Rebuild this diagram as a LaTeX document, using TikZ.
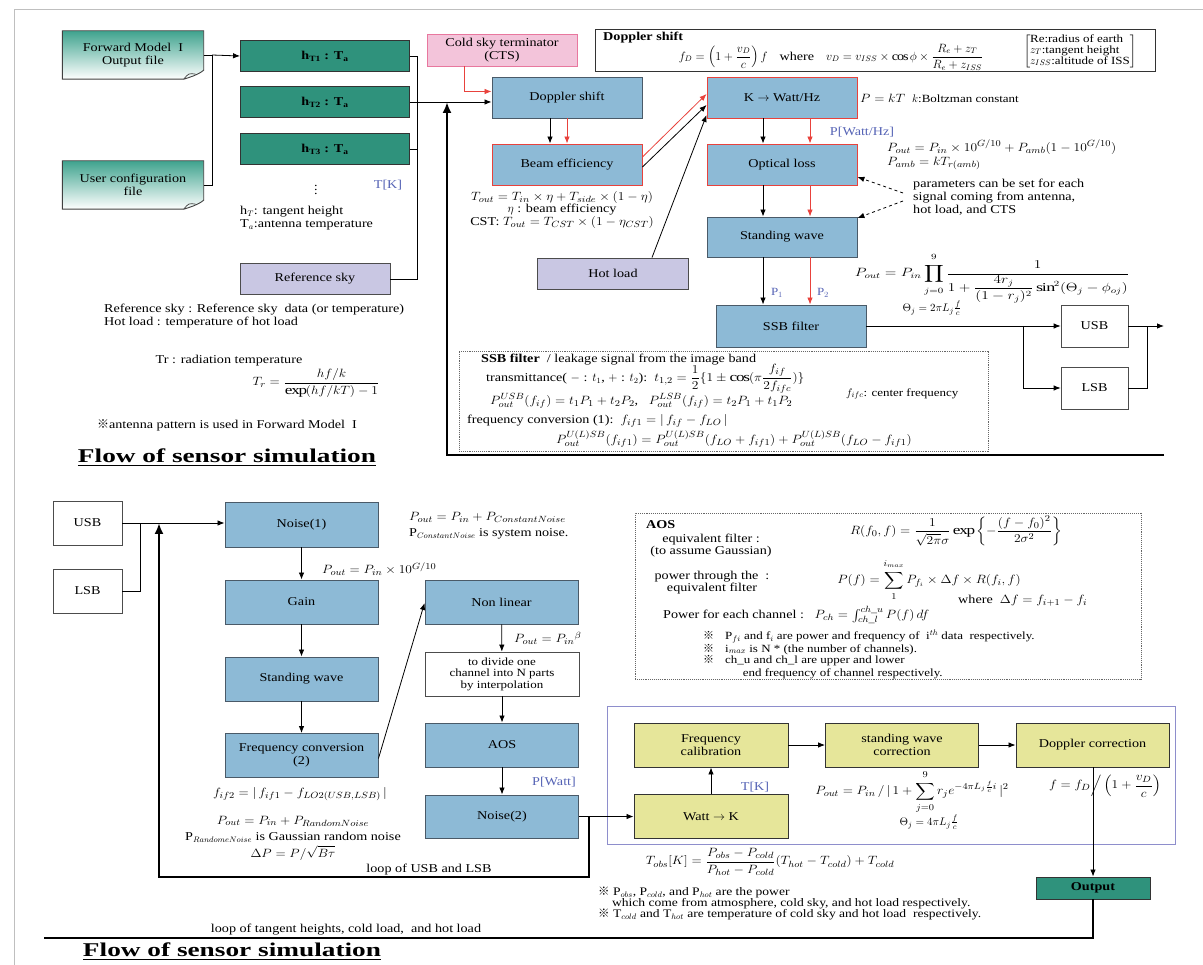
\documentclass[tikz,border=0pt]{standalone}
\usepackage{fontspec}
\usepackage{amsmath}
\usepackage{graphicx}
\setmainfont{Liberation Serif}[FakeStretch=1.18]
\newfontfamily\titlefont{Liberation Serif}[FakeStretch=1.4]
\newfontfamily\markfont{Noto Sans CJK JP}
\usetikzlibrary{arrows.meta,backgrounds}

\definecolor{boxblue}{HTML}{8DBAD6}
\definecolor{boxedge}{HTML}{4A5A68}
\definecolor{edgered}{HTML}{E8423C}
\definecolor{tealbox}{HTML}{2F927C}
\definecolor{docteal}{HTML}{3FA38E}
\definecolor{lavender}{HTML}{C9C7E3}
\definecolor{ctspink}{HTML}{F3C4DA}
\definecolor{ctsedge}{HTML}{E8779E}
\definecolor{calyellow}{HTML}{E6E69A}
\definecolor{labelblue}{HTML}{5563B5}
\definecolor{framepurple}{HTML}{8E8ECC}

\newcommand{\fs}{\fontsize{12}{13}\selectfont}
\newcommand{\fsmall}{\fontsize{11}{11}\selectfont}
\newcommand{\refmark}{{\markfont ※}}
% wider, larger maths as in the slide
\newcommand{\mm}[1]{{\fontsize{13}{14}\selectfont\scalebox{1.12}[1]{$#1$}}}
\newcommand{\uplim}[1]{\raisebox{2.5pt}{$\scriptstyle #1$}}
\newcommand{\dnlim}[1]{\raisebox{-2.5pt}{$\scriptstyle #1$}}

\begin{document}
\begin{tikzpicture}[x=1pt, y=-1pt,
  every node/.style={font=\fs},
  procbox/.style={draw=boxedge, fill=boxblue, line width=0.9pt,
                  minimum width=150pt, minimum height=41pt, align=center, inner sep=2pt},
  redbox/.style={procbox, draw=edgered},
  heightbox/.style={draw=black!80, fill=tealbox, line width=0.9pt,
                    minimum width=169pt, minimum height=31pt, font=\fs\bfseries},
  srcbox/.style={draw=black!70, fill=lavender, line width=0.9pt,
                 minimum width=150pt, minimum height=31pt},
  plainbox/.style={draw=black!70, fill=white, line width=0.8pt, align=center},
  calbox/.style={draw=black!80, fill=calyellow, line width=0.9pt,
                 minimum width=154pt, minimum height=44pt, align=center},
  docnode/.style={minimum width=141pt, minimum height=48pt, align=center},
  lbl/.style={text=labelblue},
  note/.style={align=left, inner sep=0pt},
  fml/.style={inner sep=0pt},
  arrow/.style={-{Latex[length=7pt,width=5.5pt]}, line width=0.8pt},
  redarrow/.style={arrow, draw=edgered},
  link/.style={line width=0.8pt},
  loopline/.style={line width=2.4pt},
  looparrow/.style={loopline, -{Latex[length=11pt,width=9pt]}},
  dasharrow/.style={arrow, dashed}
]
\useasboundingbox (0,0) rectangle (1203,965);
\draw[black!25, line width=1pt] (14,965) -- (14,10) -- (1203,10);

% ---------- upper flow ----------
\node[docnode] (fwd) at (133,55) {Forward Model\ \ I\\Output file};
\node[docnode] (usr) at (133,185) {User configuration\\file};
\begin{scope}[on background layer]
\foreach \d in {fwd,usr}{
  \shadedraw[top color=docteal, bottom color=white, draw=black!75, line width=0.9pt]
    (\d.north west) -- (\d.north east) -- ([yshift=9pt]\d.south east)
    .. controls ([xshift=-6pt,yshift=4pt]\d.south east) and ([xshift=-14pt,yshift=2pt]\d.south east) .. ([xshift=-20pt]\d.south east)
    -- (\d.south west) -- cycle;
  \draw[black!75, line width=0.7pt] ([xshift=-20pt]\d.south east)
    .. controls ([xshift=-15pt,yshift=6pt]\d.south east) .. ([xshift=-8pt,yshift=5pt]\d.south east);
}
\end{scope}

\node[heightbox] (hta) at (325,56) {h\textsubscript{T1} : T\textsubscript{a}};
\node[heightbox] (htb) at (325,102) {h\textsubscript{T2} : T\textsubscript{a}};
\node[heightbox] (htc) at (325,149) {h\textsubscript{T3} : T\textsubscript{a}};
\node (hdots) at (316,187) {$\vdots$};
\node[lbl] (tkA) at (388,185) {T[K]};
\node[note, anchor=north west] (htkey) at (240,206) {h$_T$: tangent height\\T$_a$:antenna temperature};
\node[srcbox] (refsky) at (315,279) {Reference sky};

\coordinate (fj) at (212,55);
\coordinate (bus) at (417,102);
\draw[link] (fwd.east) -- (fj);
\draw[link] (usr.east) -| (fj);
\draw[arrow] (fj) -- (hta.west);
\draw[link] (hta.east) -| (bus);
\draw[link] (htc.east) -| (bus);
\draw[link] (refsky.east) -| (bus);
\draw[link] (htb.east) -- (bus);

\node[procbox] (dop) at (567,97.5) {Doppler shift};
\node[procbox, draw=ctsedge, fill=ctspink, minimum height=32pt] (cts) at (502,50) {Cold sky terminator\\(CTS)};
\node[redbox] (beam) at (567,164.5) {Beam efficiency};
\node[srcbox, minimum width=151pt] (hot) at (613,273.5) {Hot load};
\node[redbox] (kw) at (782,97.5) {K $\rightarrow$ Watt/Hz};
\node[redbox] (opt) at (782,164.5) {Optical loss};
\node[procbox, minimum height=40pt] (stw) at (782,237) {Standing wave};
\node[procbox, minimum height=42pt] (ssb) at (791,326) {SSB filter};
\node[plainbox, minimum width=67pt, minimum height=42pt] (usba) at (1094.5,326) {USB};
\node[plainbox, minimum width=67pt, minimum height=42pt] (lsba) at (1094.5,388) {LSB};

\draw[arrow] (bus) -- (dop.west |- bus);
\draw[redarrow] ([xshift=-38pt]cts.south) |- ([yshift=6pt]dop.west);
\draw[arrow] ([xshift=-17pt]dop.south) -- ([xshift=-17pt]beam.north);
\draw[redarrow] (dop.south) -- (beam.north);
\draw[redarrow] ([yshift=7.5pt]beam.east) -- ([yshift=3.5pt]kw.west);
\draw[arrow] ([yshift=-2.5pt]beam.east) -- ([yshift=-7.5pt]kw.west);
\draw[arrow] ([xshift=39pt]hot.north) -- ([yshift=-17.5pt]kw.west);
\draw[arrow] ([xshift=-19pt]kw.south) -- ([xshift=-19pt]opt.north);
\draw[redarrow] ([xshift=28pt]kw.south) -- ([xshift=28pt]opt.north);
\draw[arrow] ([xshift=-19pt]opt.south) -- ([xshift=-19pt]stw.north);
\draw[redarrow] ([xshift=28pt]opt.south) -- ([xshift=28pt]stw.north);
\draw[arrow] ([xshift=-19pt]stw.south) -- ([xshift=-19pt]stw.south |- ssb.north);
\draw[redarrow] ([xshift=28pt]stw.south) -- ([xshift=28pt]stw.south |- ssb.north);
\node[lbl, font=\fsmall] (pone) at (777,293) {P$_1$};
\node[lbl, font=\fsmall] (ptwo) at (823,293) {P$_2$};
\node[lbl] (pwhz) at (862,132) {P[Watt/Hz]};

\coordinate (sj) at (1023,326);
\coordinate (oj) at (1147,326);
\coordinate (ssbout) at (1164,326);
\draw[link] (ssb.east) -- (sj);
\draw[arrow] (sj) -- (usba.west);
\draw[arrow] (sj) |- (lsba.west);
\draw[link] (usba.east) -- (oj);
\draw[link] (lsba.east) -| (oj);
\draw[arrow] (oj) -- (ssbout);

\coordinate (looptop) at (1164,455);
\coordinate (loopcorner) at (447,455);
\draw[looparrow] (looptop) -- (loopcorner) -- (loopcorner |- bus);

% notes of the upper flow
\node[draw=black!80, line width=0.9pt, minimum width=560pt, minimum height=42pt] (dopnote) at (875,50) {};
\node[note, font=\fs\bfseries, anchor=north west] (dopttl) at (603,32) {Doppler shift};
\node[fml] (dopfml) at (831,57) {$f_D=\left(1+\dfrac{v_D}{c}\right)f$\quad where\quad $v_D=v_{ISS}\times\cos\phi\times\dfrac{R_e+z_T}{R_e+z_{ISS}}$};
\node[font=\fsmall] (dopkey) at (1080,51) {$\left[\text{\begin{tabular}{@{}l@{}}Re:radius of earth\\$z_T$:tangent height\\$z_{ISS}$:altitude of ISS\end{tabular}}\right]$};

\node[note, anchor=west] (pkt) at (860,98) {\mm{P=kT}\ \ {\fsmall $k$:Boltzman constant}};
\node[note, anchor=north west] (optfml) at (887,140) {\mm{P_{out}=P_{in}\times10^{G/10}+P_{amb}(1-10^{G/10})}\\[1pt]\mm{P_{amb}=kT_{r(amb)}}};
\node[note, anchor=west] (pnote) at (913,197) {parameters can be set for each\\signal coming from antenna,\\hot load, and CTS};
\draw[dasharrow] ([xshift=-10pt,yshift=4pt]pnote.west) -- ([yshift=-12.5pt]opt.east);
\draw[dasharrow] ([xshift=-10pt,yshift=-4pt]pnote.west) -- ([yshift=19pt]stw.east);
\node[fml] (stwfml) at (992,278) {\scalebox{1.28}[1]{$P_{out}=P_{in}\displaystyle\prod_{\dnlim{j=0}}^{\uplim{9}}\frac{1}{1+\dfrac{4r_j}{(1-r_j)^2}\sin^2(\Theta_j-\phi_{oj})}$}};
\node[fml, font=\fsmall] (thetaA) at (932,308) {$\Theta_j=2\pi L_j\frac{f}{c}$};

\node[align=center, inner sep=0pt, font=\fontsize{12}{12.5}\selectfont] (beamnote) at (562,210)
  {\mm{T_{out}=T_{in}\times\eta+T_{side}\times(1-\eta)}\\$\eta$ : beam efficiency\\CST: \mm{T_{out}=T_{CST}\times(1-\eta_{CST})}};

\node[draw=black!60, densely dotted, line width=0.9pt, minimum width=529pt, minimum height=100pt] (ssbnote) at (723.5,401) {};
\node[note, anchor=west] at (481,360) {\textbf{SSB filter}\ \ / leakage signal from the image band};
\node[note, anchor=west] at (486,379) {transmittance( $-$ : $t_1$, $+$ : $t_2$):\ \ \mm{t_{1,2}=\dfrac{1}{2}\{1\pm\cos(\pi\dfrac{f_{if}}{2f_{ifc}})\}}};
\node[note, anchor=west] at (490,401) {\mm{P^{USB}_{out}(f_{if})=t_1P_1+t_2P_2},\ \ \ \mm{P^{LSB}_{out}(f_{if})=t_2P_1+t_1P_2}};
\node[note, anchor=west, font=\fsmall] at (846,394) {$f_{ifc}$: center frequency};
\node[note, anchor=west] at (467,421) {frequency conversion (1):\ \ \mm{f_{if1}=|\,f_{if}-f_{LO}\,|}};
\node[note, anchor=west] at (556,439) {\mm{P^{U(L)SB}_{out}(f_{if1})=P^{U(L)SB}_{out}(f_{LO}+f_{if1})+P^{U(L)SB}_{out}(f_{LO}-f_{if1})}};

\node[note, anchor=north west] (refkey) at (104,304) {Reference sky : Reference sky\ \ data (or temperature)\\Hot load : temperature of hot load};
\node (trkey) at (229,361) {Tr : radiation temperature};
\node[fml] (trfml) at (316,383) {\mm{T_r=\dfrac{hf/k}{\exp(hf/kT)-1}}};
\node (antkey) at (227,425) {\refmark antenna pattern is used in Forward Model\ \ I};
\node[font=\titlefont\fontsize{19.5}{22}\selectfont\bfseries] (titleA) at (227,458) {\underline{Flow of sensor simulation}};

% ---------- lower flow ----------
\node[plainbox, minimum width=69pt, minimum height=44pt] (usbb) at (87.5,523) {USB};
\node[plainbox, minimum width=69pt, minimum height=44pt] (lsbb) at (87.5,591) {LSB};
\node[procbox, minimum width=153pt, minimum height=45pt] (nza) at (301.5,524.5) {Noise(1)};
\node[procbox, minimum width=153pt, minimum height=44pt] (gain) at (301.5,602) {Gain};
\node[procbox, minimum width=153pt, minimum height=44pt] (stwb) at (301.5,679) {Standing wave};
\node[procbox, minimum width=153pt, minimum height=44pt] (fcv) at (301.5,755.5) {Frequency conversion\\(2)};
\node[procbox, minimum width=153pt, minimum height=44pt] (nonlin) at (501.5,602) {Non linear};
\node[plainbox, minimum width=154pt, minimum height=44pt, inner sep=1pt, font=\fontsize{11}{11.5}\selectfont] (divide) at (502,674) {to divide one\\channel into N parts\\by interpolation};
\node[procbox, minimum width=153pt, minimum height=44pt] (aos) at (502,745) {AOS};
\node[procbox, minimum width=153pt, minimum height=43pt] (nzb) at (502,816.5) {Noise(2)};

\coordinate (lj) at (140,523);
\draw[arrow] (usbb.east) -- (usbb.east -| nza.west);
\draw[link] (lsbb.east) -| (lj);
\draw[arrow] (nza) -- (gain);
\draw[arrow] (gain) -- (stwb);
\draw[arrow] (stwb) -- (fcv);
\draw[arrow] ([yshift=-3pt]fcv.east) -- ([yshift=-1pt]nonlin.west);
\draw[arrow] (nonlin) -- (divide);
\draw[arrow] (divide) -- (aos);
\draw[arrow] (aos) -- (nzb);

\node[note, anchor=west] (gainfml) at (322,569) {\mm{P_{out}=P_{in}\times10^{G/10}}};
\node[note, anchor=west] (nlfml) at (514,638) {\mm{P_{out}=P_{in}{}^{\beta}}};
\node[lbl] (pwatt) at (554,782) {P[Watt]};
\node[note, anchor=north west] (nzfml) at (409,512) {\mm{P_{out}=P_{in}+P_{ConstantNoise}}\\[3pt]P$_{ConstantNoise}$ is system noise.};
\node[fml] (fcvfml) at (300,794) {\mm{f_{if2}=|\,f_{if1}-f_{LO2(USB,LSB)}\,|}};
\node[align=center, inner sep=0pt, font=\fontsize{12}{16.5}\selectfont] (rnfml) at (293,838)
  {\mm{P_{out}=P_{in}+P_{RandomNoise}}\\P$_{RandomeNoise}$ is Gaussian random noise\\\mm{\Delta P=P/\sqrt{B\tau}}};

\draw[draw=framepurple, line width=0.9pt] (607,706) rectangle (1175,844);
\node[calbox] (wk) at (711,816.5) {Watt $\rightarrow$ K};
\node[calbox] (fcal) at (711,745) {Frequency\\calibration};
\node[calbox, minimum width=153pt] (swc) at (902,745) {standing wave\\correction};
\node[calbox, minimum width=153pt] (dcor) at (1092.5,745) {Doppler correction};
\node[heightbox, minimum width=114pt, minimum height=22pt] (outp) at (1093,888) {Output};

\coordinate (nj) at (589,816.5);
\coordinate (loopbl) at (159,877);
\coordinate (bottomend) at (44,938);
\draw[link] (nzb.east) -- (nj);
\draw[arrow] (nj) -- (wk.west);
\draw[looparrow] (nj) |- (loopbl) -- (loopbl |- usbb.east);
\draw[arrow] (wk) -- (fcal);
\draw[arrow] (fcal) -- (swc);
\draw[arrow] (swc) -- (dcor);
\draw[arrow] (dcor.south -| outp.north) -- (outp.north);
\draw[loopline] (outp.south) |- (bottomend);

\node[lbl] (tkb) at (755,787) {T[K]};
\node[fml] (swcfml) at (912,792) {\mm{P_{out}=P_{in}\,/\,|\,1+\displaystyle\sum_{\dnlim{j=0}}^{\uplim{9}}r_je^{-4\pi L_j\frac{f}{c}i}\,|^2}};
\node[fml, font=\fsmall] (thetab) at (929,822) {$\Theta_j=4\pi L_j\frac{f}{c}$};
\node[fml] (dcfml) at (1105,786) {\mm{f=f_D\Big/\left(1+\dfrac{v_D}{c}\right)}};
\node[fml] (tobs) at (770,862) {\mm{T_{obs}[K]=\dfrac{P_{obs}-P_{cold}}{P_{hot}-P_{cold}}(T_{hot}-T_{cold})+T_{cold}}};
\node[note, anchor=north west, font=\fontsize{11.5}{11}\selectfont] (tobskey) at (598,887)
  {\refmark\ P$_{obs}$, P$_{cold}$, and P$_{hot}$ are the power\\
   \hspace*{1.2em}which come from atmosphere, cold sky, and hot load respectively.\\
   \refmark\ T$_{cold}$ and T$_{hot}$ are temperature of cold sky and hot load\ \ respectively.};

\node (loopa) at (429,870) {loop of USB and LSB};
\node (loopb) at (346,930) {loop of tangent heights, cold load,\ \ and hot load};
\node[font=\titlefont\fontsize{19.5}{22}\selectfont\bfseries] (titleb) at (232,952) {\underline{Flow of sensor simulation}};

% AOS note
\node[draw=black!60, densely dotted, line width=0.9pt, minimum width=506pt, minimum height=166pt] (aosnote) at (888,596) {};
\node[note, font=\fs\bfseries, anchor=west] at (646,525) {AOS};
\node[align=center, inner sep=0pt, font=\fontsize{12}{12}\selectfont] at (711,546) {equivalent filter :\\(to assume Gaussian)};
\node[fml] at (956,531) {\mm{R(f_0,f)=\dfrac{1}{\sqrt{2\pi}\sigma}\exp\left\{-\dfrac{(f-f_0)^2}{2\sigma^2}\right\}}};
\node[align=center, inner sep=0pt, font=\fontsize{12}{12}\selectfont] at (712,583) {power through the\ \ :\\equivalent filter};
\node[fml] at (929,580) {\mm{P(f)=\displaystyle\sum_{\dnlim{1}}^{\uplim{i_{max}}}P_{f_i}\times\Delta f\times R(f_i,f)}};
\node[note, anchor=west] at (958,601) {where\ \ \mm{\Delta f=f_{i+1}-f_i}};
\node[note, anchor=west] at (663,615) {Power for each channel :\ \ \ \mm{P_{ch}=\int_{ch\_l}^{ch\_u}P(f)\,df}};
\node[note, anchor=north west, font=\fsmall] at (703,630)
  {\refmark\quad P$_{fi}$ and f$_i$ are power and frequency of\ \ i$^{th}$ data\ \ respectively.\\
   \refmark\quad i$_{max}$ is N * (the number of channels).\\
   \refmark\quad ch\_u and ch\_l are upper and lower\\[2pt]
   \hspace*{3.6em}end frequency of channel respectively.};
\end{tikzpicture}
\end{document}
